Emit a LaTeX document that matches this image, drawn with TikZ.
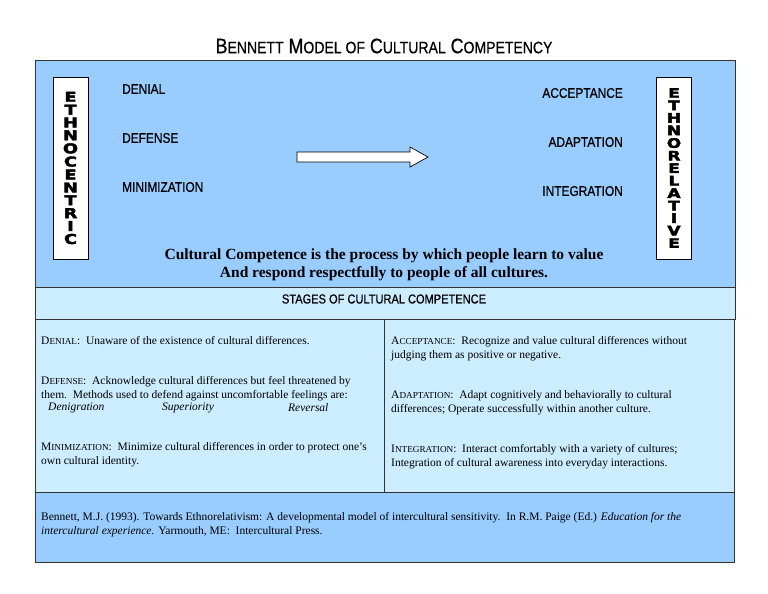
\documentclass[tikz,border=0pt]{standalone}
\usepackage{fontspec}
\setmainfont{Liberation Serif}
\newfontfamily\lab[FakeStretch=0.85,FakeBold=0.6]{Liberation Sans}
\newfontfamily\blk[FakeBold=3]{DejaVu Sans}
\definecolor{dblue}{HTML}{99CCFF}
\definecolor{lblue}{HTML}{CCECFF}
\begin{document}
\begin{tikzpicture}[x=1pt,y=-1pt,
  panel/.style={draw=black!80,line width=0.8pt},
  stage/.style={font=\lab\fontsize{14}{16}\selectfont,inner sep=0pt},
  vbox/.style={draw,fill=white,line width=0.8pt,minimum width=35pt,minimum height=182pt,inner sep=0pt,align=center},
  body/.style={font=\fontsize{11.5}{14}\selectfont,align=left,anchor=north west,inner sep=0pt}]
\useasboundingbox (0,0) rectangle (768,594);
\fill[white] (0,0) rectangle (768,594);
\node (title) at (384,46) {\lab\fontsize{21}{24}\selectfont B{\fontsize{16.5}{18}\selectfont ENNETT} M{\fontsize{16.5}{18}\selectfont ODEL OF} C{\fontsize{16.5}{18}\selectfont ULTURAL} C{\fontsize{16.5}{18}\selectfont OMPETENCY}};
\filldraw[panel,fill=dblue] (35,60) rectangle (735,287);
\filldraw[panel,fill=lblue] (35,287) rectangle (735,319);
\filldraw[panel,fill=lblue] (35,319) rectangle (734,492);
\draw[panel] (384,319) -- (384,492);
\filldraw[panel,fill=dblue] (35,492) rectangle (734,562);
\node[vbox,font=\blk\bfseries\fontsize{13.5}{14.6}\selectfont] (ec) at (70.5,168) {\scalebox{1.3}[1]{\shortstack{E\\T\\H\\N\\O\\C\\E\\N\\T\\R\\I\\C}}};
\node[vbox,font=\blk\bfseries\fontsize{13}{13.6}\selectfont] (er) at (674,168) {\scalebox{1.3}[1]{\shortstack{E\\T\\H\\N\\O\\R\\E\\L\\A\\T\\I\\V\\E}}};
\node[stage,anchor=west] (den) at (122,89) {DENIAL};
\node[stage,anchor=west] (def) at (122,138) {DEFENSE};
\node[stage,anchor=west] (min) at (122,187) {MINIMIZATION};
\node[stage,anchor=east] (acc) at (623,93) {ACCEPTANCE};
\node[stage,anchor=east] (ada) at (623,142) {ADAPTATION};
\node[stage,anchor=east] (int) at (623,191) {INTEGRATION};
\draw[line width=0.7pt,fill=white] (297,152) -- (410,152) -- (410,147) -- (428,157) -- (410,167) -- (410,162) -- (297,162) -- cycle;
\node[font=\bfseries\fontsize{15.5}{18}\selectfont,align=center] (def1) at (384,265) {Cultural Competence is the process by which people learn to value\\And respond respectfully to people of all cultures.};
\node[font=\lab\fontsize{13}{15}\selectfont] (stg) at (384,299) {STAGES OF CULTURAL COMPETENCE};
\node[body] (t1) at (41,336) {D\scalebox{0.8}{ENIAL}:\ \ Unaware of the existence of cultural differences.};
\node[body] (t2) at (41,376) {D\scalebox{0.8}{EFENSE}:\ \ Acknowledge cultural differences but feel threatened by\\them.\ \ Methods used to defend against uncomfortable feelings are:};
\node[body,font=\itshape\fontsize{11.5}{14}\selectfont] (t2a) at (48,403) {Denigration};
\node[body,font=\itshape\fontsize{11.5}{14}\selectfont] (t2b) at (162,403) {Superiority};
\node[body,font=\itshape\fontsize{11.5}{14}\selectfont] (t2c) at (288,403) {Reversal};
\node[body] (t3) at (41,442) {M\scalebox{0.8}{INIMIZATION}:\ \ Minimize cultural differences in order to protect one's\\own cultural identity.};
\node[body] (t4) at (391,336) {A\scalebox{0.8}{CCEPTANCE}:\ \ Recognize and value cultural differences without\\judging them as positive or negative.};
\node[body] (t5) at (391,390) {A\scalebox{0.8}{DAPTATION}:\ \ Adapt cognitively and behaviorally to cultural\\differences; Operate successfully within another culture.};
\node[body] (t6) at (391,444) {I\scalebox{0.8}{NTEGRATION}:\ \ Interact comfortably with a variety of cultures;\\Integration of cultural awareness into everyday interactions.};
\node[body] (ref) at (41,512) {Bennett, M.J. (1993). Towards Ethnorelativism: A developmental model of intercultural sensitivity.\ \ In R.M. Paige (Ed.) \textit{Education for the}\\\textit{intercultural experience.} Yarmouth, ME:\ \ Intercultural Press.};
\end{tikzpicture}
\end{document}
